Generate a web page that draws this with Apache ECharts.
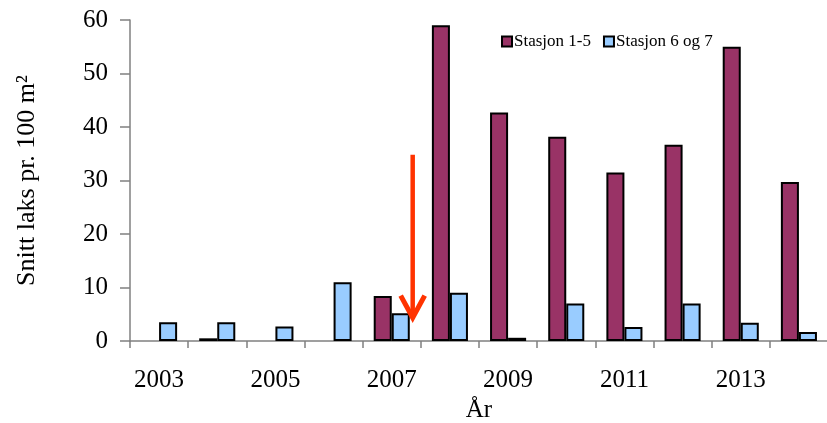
<!DOCTYPE html>
<html><head><meta charset="utf-8">
<script src="https://cdn.jsdelivr.net/npm/echarts@6/dist/echarts.min.js"></script>
<style>html,body{margin:0;padding:0;background:#fff}#c{width:827px;height:423px}</style>
</head><body><div id="c"></div>
<script>
const years = ['2003','2004','2005','2006','2007','2008','2009','2010','2011','2012','2013','2014'];
const stasjon15 = [null, 0.5, null, null, 8.4, 59, 42.7, 38.2, 31.5, 36.7, 55, 29.7];
const stasjon67 = [3.5, 3.5, 2.7, 11, 5.2, 9, 0.6, 7, 2.6, 7, 3.4, 1.7];
const yTicks = [0, 10, 20, 30, 40, 50, 60];
const arrowFrom = 34.8, arrowTo = 3.8;

const font = '"Liberation Serif","Times New Roman",serif';
const chart = echarts.init(document.getElementById('c'));
chart.setOption({
  animation: false,
  grid: { left: 130, top: 20, width: 698, bottom: 82, outerBoundsMode: 'none', containLabel: false },
  legend: {
    top: 28, left: 496, itemWidth: 10, itemHeight: 10, itemGap: 12,
    icon: 'rect',
    textStyle: { fontFamily: font, fontSize: 17, color: '#000', padding: [0,0,0,-3] },
    data: ['Stasjon 1-5', 'Stasjon 6 og 7']
  },
  xAxis: {
    type: 'category', data: years,
    name: 'År', nameLocation: 'middle', nameGap: 55,
    nameTextStyle: { fontFamily: font, fontSize: 25, color: '#000' },
    axisLine: { lineStyle: { color: '#808080', width: 1.5 } },
    axisTick: { show: true, inside: false, length: 7, interval: 0, lineStyle: { color: '#808080', width: 1.5 } },
    axisLabel: { interval: 1, margin: 27, fontFamily: font, fontSize: 25, color: '#000' }
  },
  yAxis: {
    type: 'value', min: yTicks[0], max: yTicks[yTicks.length-1], interval: 10,
    name: 'Snitt laks pr. 100 m²', nameLocation: 'middle', nameGap: 90, nameRotate: 90,
    nameTextStyle: { fontFamily: font, fontSize: 26, color: '#000' },
    splitLine: { show: false },
    axisLine: { show: true, lineStyle: { color: '#808080', width: 1.5 } },
    axisTick: { show: true, inside: false, length: 10, lineStyle: { color: '#808080', width: 1.5 } },
    axisLabel: { margin: 22, fontFamily: font, fontSize: 25, color: '#000' }
  },
  series: [
    { name: 'Stasjon 1-5', type: 'bar', data: stasjon15, barGap: '0%', barCategoryGap: '38%',
      itemStyle: { color: '#993366', borderColor: '#000', borderWidth: 2 } },
    { name: 'Stasjon 6 og 7', type: 'bar', data: stasjon67,
      itemStyle: { color: '#99CCFF', borderColor: '#000', borderWidth: 2 } }
  ]
});
// red annotation arrow between 2007 and 2008
const cx = chart.convertToPixel({ xAxisIndex: 0 }, '2007');
const cx2 = chart.convertToPixel({ xAxisIndex: 0 }, '2008');
const ax = cx + (cx2 - cx) * 0.36;
const y1 = chart.convertToPixel({ yAxisIndex: 0 }, arrowFrom);
const y2 = chart.convertToPixel({ yAxisIndex: 0 }, arrowTo);
chart.setOption({
  graphic: [
    { type: 'line', shape: { x1: ax, y1: y1, x2: ax, y2: y2 - 4 }, style: { stroke: '#FF3300', lineWidth: 4.5 }, z: 100 },
    { type: 'polyline', shape: { points: [[ax - 12, y2 - 25], [ax, y2 - 3], [ax + 12, y2 - 25]] },
      style: { stroke: '#FF3300', lineWidth: 5, fill: null, lineJoin: 'miter' }, z: 100 }
  ]
});
</script></body></html>
